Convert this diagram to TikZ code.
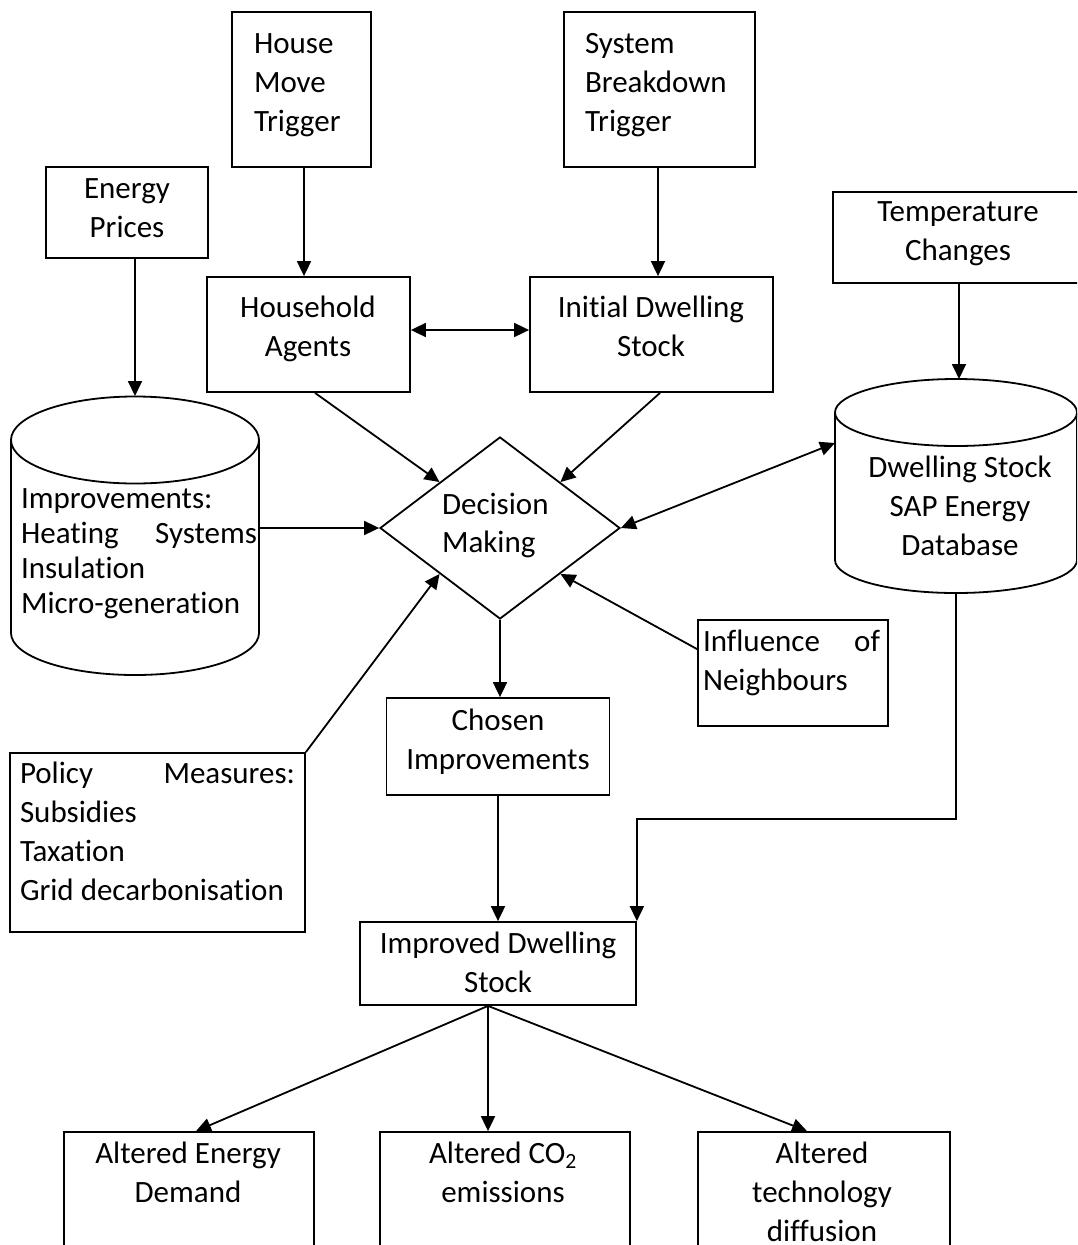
\documentclass[tikz,border=0pt]{standalone}
\usepackage{fontspec}
\setmainfont{Carlito}[RawFeature={-liga;-clig;-dlig;-calt;-rlig}]
\usetikzlibrary{arrows.meta,shapes.geometric}
\newcommand{\txtL}[1]{\begin{tabular}[t]{@{}l@{}}#1\end{tabular}}
\newcommand{\txtC}[1]{\begin{tabular}[t]{@{}c@{}}#1\end{tabular}}
\begin{document}
\begin{tikzpicture}[x=1pt,y=-1pt,
  font=\fontsize{31}{39}\selectfont,
  box/.style={draw, line width=1.8pt, inner sep=0pt},
  ghost/.style={inner sep=0pt, outer sep=0pt},
  lbl/.style={inner sep=0pt, outer sep=0pt},
  arr/.style={line width=1.8pt, -{Triangle[length=15pt,width=14pt]}},
  arrs/.style={line width=1.8pt, {Triangle[length=15pt,width=14pt]}-{Triangle[length=15pt,width=14pt]}},
  cyl/.style={line width=1.8pt}]
\useasboundingbox (0,0) rectangle (1077,1245);
\fill[white] (0,0) rectangle (1077,1245);
\clip (0,0) rectangle (1077,1245);

% boxes
\node[box, minimum width=139pt, minimum height=155pt] (house) at (301.5,89.5) {};
\node[box, minimum width=191pt, minimum height=155pt] (sys) at (659.5,89.5) {};
\node[box, minimum width=162pt, minimum height=91pt] (energy) at (127,212.5) {};
\node[box, minimum width=252pt, minimum height=91pt] (temp) at (959,237.5) {};
\node[box, minimum width=203pt, minimum height=115pt] (hh) at (308.5,334.5) {};
\node[box, minimum width=243pt, minimum height=115pt] (init) at (651.5,334.5) {};
\node[draw, diamond, line width=1.8pt, inner sep=0pt, minimum width=240pt, minimum height=182pt] (dm) at (500,528) {};
\node[box, minimum width=223pt, minimum height=97pt] (chosen) at (498,746.5) {};
\node[box, minimum width=190pt, minimum height=106pt] (infl) at (793,673) {};
\node[box, minimum width=295pt, minimum height=179pt] (pol) at (157.5,842.5) {};
\node[box, minimum width=276pt, minimum height=83pt] (imp) at (498,963.5) {};
\node[box, minimum width=250pt, minimum height=140pt] (ed) at (189,1202) {};
\node[box, minimum width=250pt, minimum height=140pt] (co2) at (505,1202) {};
\node[box, minimum width=252pt, minimum height=140pt] (tech) at (824,1202) {};

% cylinders
\node[ghost, minimum width=248pt, minimum height=279pt] (icyl) at (135,535.5) {};
\draw[cyl] (11,440) -- (11,633) arc[start angle=180, end angle=360, x radius=124pt, y radius=42pt] -- (259,440);
\draw[cyl] (135,440) ellipse [x radius=124pt, y radius=43.5pt];
\node[ghost, minimum width=242pt, minimum height=214pt] (dbc) at (956,486) {};
\draw[cyl] (835,412.5) -- (835,560) arc[start angle=180, end angle=360, x radius=121pt, y radius=33pt] -- (1077,412.5);
\draw[cyl] (956,412.5) ellipse [x radius=121pt, y radius=33.5pt];

% texts
\node[lbl, anchor=base west] (thouse) at (254,53) {\txtL{House\\Move\\Trigger}};
\node[lbl, anchor=base west] (tsys) at (585,53) {\txtL{System\\Breakdown\\Trigger}};
\node[lbl, anchor=base] (tenergy) at (127,198) {\txtC{Energy\\Prices}};
\node[lbl, anchor=base] (ttemp) at (958,221) {\txtC{Temperature\\Changes}};
\node[lbl, anchor=base] (thh) at (308,317) {\txtC{Household\\Agents}};
\node[lbl, anchor=base] (tinit) at (651,317) {\txtC{Initial Dwelling\\Stock}};
\node[lbl, anchor=base west, font=\fontsize{31}{35}\selectfont] (ticyl) at (21,508)
  {\txtL{Improvements:\\\makebox[236pt][s]{Heating Systems}\\Insulation\\Micro-generation}};
\node[lbl, anchor=base west, font=\fontsize{31}{38.5}\selectfont] (tdm) at (442,514) {\txtL{Decision\\Making}};
\node[lbl, anchor=base] (tdbc) at (960,477) {\txtC{Dwelling Stock\\SAP Energy\\Database}};
\node[lbl, anchor=base] (tchosen) at (498,730) {\txtC{Chosen\\Improvements}};
\node[lbl, anchor=base west] (tinfl) at (703,651) {\txtL{\makebox[177pt][s]{Influence of}\\Neighbours}};
\node[lbl, anchor=base west] (tpol) at (20,783) {\txtL{\makebox[275pt][s]{Policy Measures:}\\Subsidies\\Taxation\\Grid decarbonisation}};
\node[lbl, anchor=base] (timp) at (498,953) {\txtC{Improved Dwelling\\Stock}};
\node[lbl, anchor=base] (ted) at (188,1163) {\txtC{Altered Energy\\Demand}};
\node[lbl, anchor=base] (tco2) at (503,1163) {\txtC{Altered CO\textsubscript{2}\\emissions}};
\node[lbl, anchor=base] (ttech) at (822,1163) {\txtC{Altered\\technology\\diffusion}};

% connectors
\draw[arr] ([xshift=2.5pt]house.south) -- ([xshift=2.5pt]house.south |- hh.north);
\draw[arr] ([xshift=-1.5pt]sys.south) -- ([xshift=-1.5pt]sys.south |- init.north);
\draw[arr] ([xshift=8pt]energy.south) -- (icyl.north);
\draw[arr] (temp.south) -- (temp.south |- dbc.north);
\draw[arrs] ([yshift=4.5pt]hh.east) -- ([yshift=4.5pt]init.west);
\draw[arr] ([xshift=6.5pt]hh.south) -- (dm.north west);
\draw[arr] ([xshift=8.5pt]init.south) -- (dm.north east);
\draw[arr] (icyl.east |- dm.west) -- (dm.west);
\draw[arrs] (dm.east) -- ([yshift=43pt]dbc.west);
\draw[arr] (pol.north east) -- (dm.south west);
\draw[arr] ([yshift=-30pt]infl.north west) -- (dm.south east);
\draw[arr] (dm.south) -- (dm.south |- chosen.north);
\draw[arr] (chosen.south) -- (chosen.south |- imp.north);
\draw[arr] (dbc.south) -- ++(0,226) -| (imp.north east);
\coordinate (fork) at ([xshift=-10pt]imp.south);
\draw[arr] (fork) -- ([xshift=7pt]ed.north);
\draw[arr] (fork) -- (fork |- co2.north);
\draw[arr] (fork) -- ([xshift=-17pt]tech.north);
\end{tikzpicture}
\end{document}
